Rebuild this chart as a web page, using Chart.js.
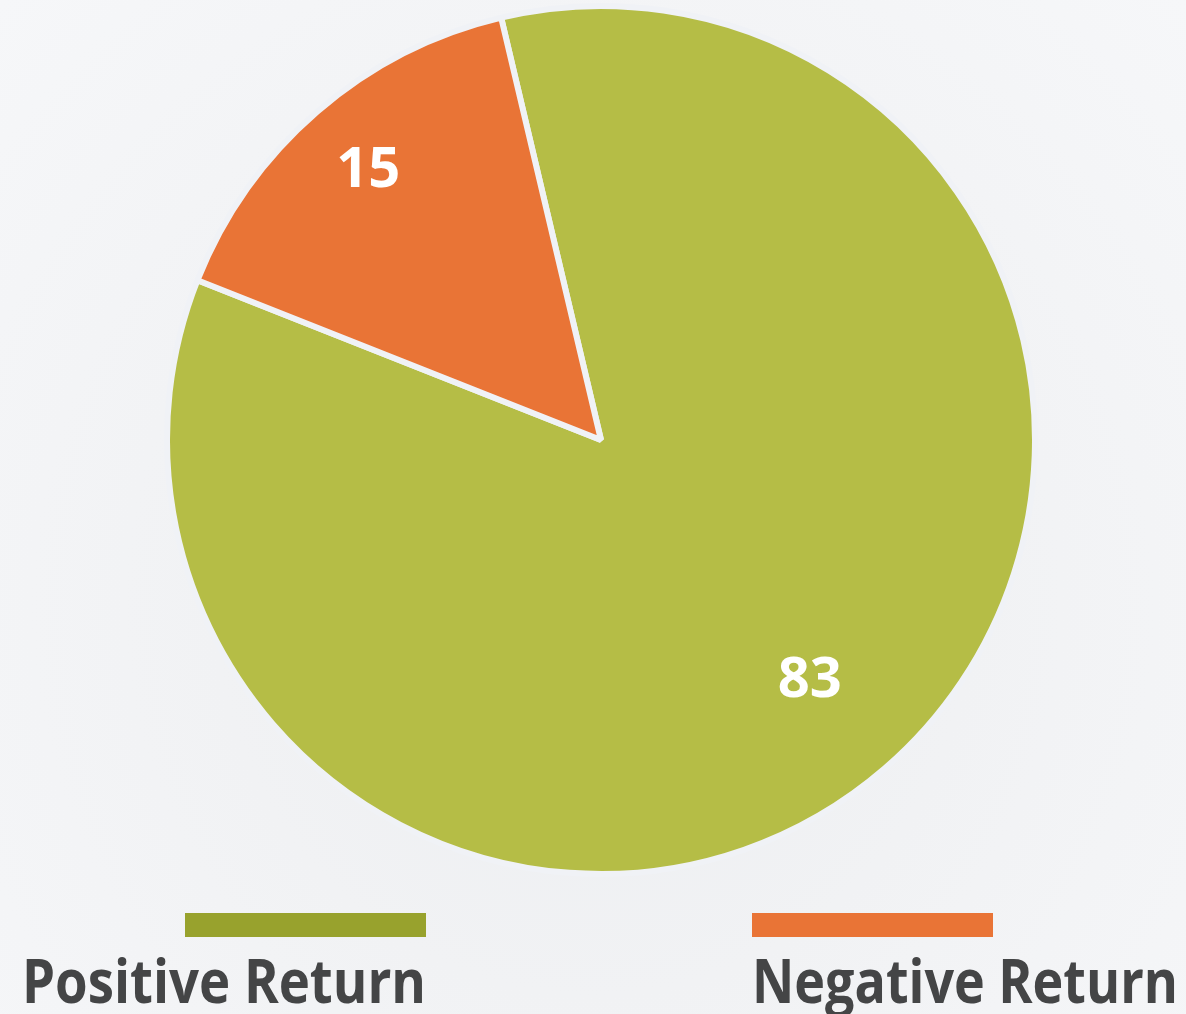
<!DOCTYPE html>
<html>
<head>
<meta charset="utf-8">
<script src="https://cdn.jsdelivr.net/npm/chart.js@4/dist/chart.umd.min.js"></script>
<style>
  html, body { margin: 0; padding: 0; }
  body {
    width: 1186px; height: 1014px; overflow: hidden;
    background: radial-gradient(ellipse at 50% 60%, #eceef1 0%, #f1f2f4 45%, #f6f7f9 100%);
  }
  #wrap { position: absolute; left: 0; top: 0; width: 1186px; height: 1014px; }
</style>
</head>
<body>
<div id="wrap"><canvas id="c" width="1186" height="1014"></canvas></div>
<script>
const categories = ["Positive Return", "Negative Return"];
const values = [83, 15];
const sliceColors = ["#b5bd46", "#e97436"];
const legendColors = ["#98a22d", "#e97436"];

const valueLabels = {
  id: 'valueLabels',
  afterDatasetsDraw(chart) {
    const ctx = chart.ctx;
    const meta = chart.getDatasetMeta(0);
    const fr = [0.735, 0.82];
    ctx.save();
    ctx.fillStyle = '#ffffff';
    ctx.font = '700 56px "Open Sans", sans-serif';
    ctx.textAlign = 'center';
    ctx.textBaseline = 'middle';
    meta.data.forEach((arc, i) => {
      const p = arc.getProps(['x', 'y', 'startAngle', 'endAngle', 'outerRadius'], true);
      const mid = (p.startAngle + p.endAngle) / 2;
      const r = p.outerRadius * fr[i];
      ctx.fillText(String(chart.data.datasets[0].data[i]), p.x + Math.cos(mid) * r, p.y + Math.sin(mid) * r);
    });
    ctx.restore();
  }
};

const bottomLegend = {
  id: 'bottomLegend',
  afterDraw(chart) {
    const ctx = chart.ctx;
    const items = [
      { barX: 185, barW: 241, textX: 22, textW: 404 },
      { barX: 752, barW: 241, textX: 752, textW: 426 }
    ];
    ctx.save();
    chart.data.labels.forEach((lab, i) => {
      const it = items[i];
      ctx.fillStyle = legendColors[i];
      ctx.fillRect(it.barX, 913, it.barW, 24);
      ctx.fillStyle = '#444546';
      ctx.font = '700 60px "Open Sans", sans-serif';
      ctx.textAlign = 'left';
      ctx.textBaseline = 'alphabetic';
      ctx.fillText(lab, it.textX, 1003, it.textW);
    });
    ctx.restore();
  }
};

new Chart(document.getElementById('c'), {
  type: 'pie',
  data: {
    labels: categories,
    datasets: [{
      data: values,
      backgroundColor: sliceColors,
      borderColor: '#f0f2f6',
      borderWidth: 6,
      hoverOffset: 0
    }]
  },
  options: {
    responsive: false,
    animation: false,
    rotation: -13.3,
    layout: { padding: { top: 3, bottom: 137, left: 164, right: 148 } },
    plugins: { legend: { display: false }, tooltip: { enabled: false } }
  },
  plugins: [valueLabels, bottomLegend]
});
</script>
</body>
</html>
